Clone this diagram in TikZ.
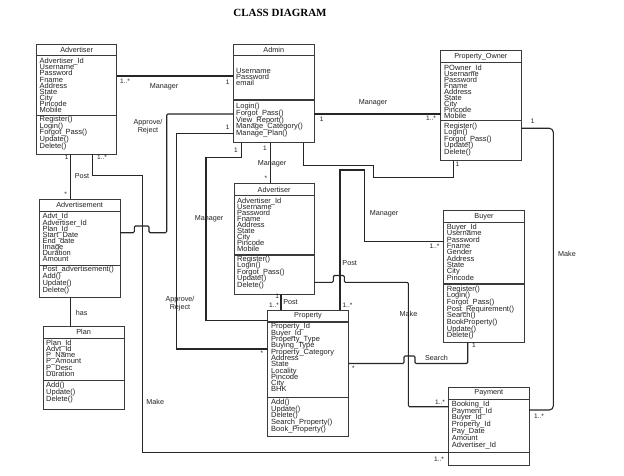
\documentclass[tikz,border=0pt]{standalone}
\usepackage{fontspec}
\setmainfont{Liberation Sans}
\newfontfamily\titlefont{Liberation Serif}
\usetikzlibrary{calc}
\lineskiplimit=-50pt
\lineskip=0pt
\definecolor{boxc}{HTML}{3A3A3A}
\definecolor{txtc}{HTML}{222222}
\definecolor{linec}{HTML}{262626}
\newcommand\cf[1]{\fontsize{7.5}{#1}\selectfont}
\tikzset{
  box/.style={draw=boxc, line width=0.8pt, inner sep=0pt, outer sep=0pt, anchor=north west},
  divline/.style={draw=boxc, line width=1.3pt},
  ttl/.style={font=\fontsize{7.3}{8}\selectfont, text=txtc, inner sep=0pt},
  txt/.style={anchor=north west, align=left, inner sep=0pt, text=txtc},
  conn/.style={draw=linec, line width=1.1pt},
  lbl/.style={font=\fontsize{7.2}{8}\selectfont, text=txtc, inner sep=0pt, align=center},
  card/.style={font=\fontsize{6.5}{7}\selectfont, text=txtc, inner sep=0pt},
}
% name, x1, y1, x2, y2, y header, y divider, title
\newcommand\umlclass[8]{%
  \node[box, minimum width={#4pt-#2pt}, minimum height={#5pt-#3pt}] (#1) at (#2,#3) {};
  \draw[divline] (#1.west |- 0,#6) -- (#1.east |- 0,#6);
  \draw[divline] (#1.west |- 0,#7) -- (#1.east |- 0,#7);
  \node[ttl] (#1-t) at ($(#1.north west)!.5!(#1.east |- 0,#6)$) {#8};
}
% name, x, y of first line centre, line skip, lines
\newcommand\members[5]{%
  \node[txt, font={\cf{#4}}] (#1) at (#2,#3-3.0) {\rule{0pt}{5.7pt}#5};
}
\begin{document}
\begin{tikzpicture}[x=1pt, y=-1pt]
\fill[white] (0,0) rectangle (624,476);
\useasboundingbox (0,0) rectangle (624,476);

\node[font=\titlefont\bfseries\fontsize{11}{12}\selectfont, inner sep=0pt] (title) at (280,12.5) {CLASS DIAGRAM};

% ---------- classes ----------
\umlclass{adv1}{36.7}{44}{116.7}{154.5}{55.7}{115.3}{Advertiser}
\members{adv1-a}{39.5}{60.7}{6.15}{Advertiser\_Id\\Username\\Password\\Fname\\Address\\State\\City\\Pincode\\Mobile}
\members{adv1-m}{39.5}{118.7}{6.65}{Register()\\Login()\\Forgot\_Pass()\\Update()\\Delete()}

\umlclass{adm}{233.3}{44}{314.3}{142.7}{55.7}{100}{Admin}
\members{adm-a}{236}{70.7}{5.9}{Username\\Password\\email}
\members{adm-m}{236}{106}{6.65}{Login()\\Forgot\_Pass()\\View\_Report()\\Manage\_Category()\\Manage\_Plan()}

\umlclass{po}{440.7}{50.7}{521}{160.7}{62.3}{120.7}{Property\_Owner}
\members{po-a}{444}{67.3}{6.1}{POwner\_Id\\Username\\Password\\Fname\\Address\\State\\City\\Pincode\\Mobile}
\members{po-m}{444}{125.3}{6.6}{Register()\\Login()\\Forgot\_Pass()\\Update()\\Delete()}

\umlclass{advt}{39.3}{199}{120}{297.7}{211.7}{265.7}{Advertisement}
\members{advt-a}{42.3}{216}{6.1}{Advt\_Id\\Advertiser\_Id\\Plan\_Id\\Start\_Date\\End\_date\\Image\\Duration\\Amount}
\members{advt-m}{42.3}{269}{7}{Post\_advertisement()\\Add()\\Update()\\Delete()}

\umlclass{adv2}{234}{183.3}{314.3}{294.3}{195.7}{255}{Advertiser}
\members{adv2-a}{237}{201}{6}{Advertiser\_Id\\Username\\Password\\Fname\\Address\\State\\City\\Pincode\\Mobile}
\members{adv2-m}{237}{258.3}{6.5}{Register()\\Login()\\Forgot\_Pass()\\Update()\\Delete()}

\umlclass{buy}{443.7}{210.3}{524.3}{342.3}{222.3}{284}{Buyer}
\members{buy-a}{446.7}{226.7}{6.33}{Buyer\_Id\\Username\\Password\\Fname\\Gender\\Address\\State\\City\\Pincode}
\members{buy-m}{446.7}{288.3}{6.67}{Register()\\Login()\\Forgot\_Pass()\\Post\_Requirement()\\Search()\\BookProperty()\\Update()\\Delete()}

\umlclass{plan}{43.3}{326}{124}{409}{338.3}{380.7}{Plan}
\members{plan-a}{46}{342.7}{6.1}{Plan\_Id\\Advt\_Id\\P\_Name\\P\_Amount\\P\_Desc\\Duration}
\members{plan-m}{46}{385}{7}{Add()\\Update()\\Delete()}

\umlclass{prop}{267.7}{310}{348.3}{436.7}{322}{397.7}{Property}
\members{prop-a}{271}{326}{6.3}{Property\_Id\\Buyer\_Id\\Property\_Type\\Buying\_Type\\Property\_Category\\Address\\State\\Locality\\Pincode\\City\\BHK}
\members{prop-m}{271}{401.7}{6.6}{Add()\\Update()\\Delete()\\Search\_Property()\\Book\_Property()}

\umlclass{pay}{448.7}{387}{529}{465.7}{399.3}{452.3}{Payment}
\members{pay-a}{451.7}{403.3}{6.8}{Booking\_Id\\Payment\_Id\\Buyer\_Id\\Property\_Id\\Pay\_Date\\Amount\\Advertiser\_Id}

% ---------- connectors ----------
% Advertiser - Admin (Manager)
\draw[conn] (adv1.east |- 0,76) -- (adm.west |- 0,76);
\node[card] (c1a) at (125,81.5) {1..*};
\node[lbl] (c1l) at (164,87) {Manager};
\node[card] (c1b) at (227.7,82.3) {1};

% Admin - Advertisement (Approve/Reject)
\draw[conn, rounded corners=1.2pt] (adm.west |- 0,114) -- (166.7,114) -- (166.7,232.7) -- (149,232.7) -- (149,226) -- (134.3,226) -- (134.3,232.7) -- (advt.east |- 0,232.7);
\node[lbl] (c2l) at (148,127) {Approve/\\Reject};

% Admin - Property (Approve/Reject)
\draw[conn] (adm.west |- 0,133.3) -- (176.3,133.3) -- (176.3,349) -- (prop.west |- 0,349);
\node[card] (c3a) at (227.7,127.7) {1};
\node[lbl] (c3l) at (180,304) {Approve/\\Reject};
\node[card] (c3b) at (262,353) {*};

% Admin - Property (Manager)
\draw[conn] (adm.south -| 241.7,0) -- (241.7,157.3) -- (206,157.3) -- (206,320.7) -- (prop.west |- 0,320.7);
\node[card] (c4a) at (236,150) {1};
\node[lbl] (c4l) at (209,218.5) {Manager};

% Admin - Advertiser (Manager)
\draw[conn] (adm.south -| 270.7,0) -- (adv2.north -| 270.7,0);
\node[card] (c5a) at (265,148.3) {1};
\node[lbl] (c5l) at (272,164) {Manager};
\node[card] (c5b) at (266,178) {*};

% Admin - Property_Owner (lower route)
\draw[conn] (adm.south -| 303.3,0) -- (303.3,165.7) -- (373.3,165.7) -- (373.3,177.7) -- (453.3,177.7) -- (po.south -| 453.3,0);
\node[card] (c6a) at (457.5,164.5) {1};

% Admin - Property_Owner (Manager)
\draw[conn] (adm.east |- 0,114) -- (po.west |- 0,114);
\node[card] (c7a) at (321.7,119.3) {1};
\node[lbl] (c7l) at (373,102.7) {Manager};
\node[card] (c7b) at (431,118.3) {1..*};

% Property - Buyer (Manager / Post)
\draw[conn] (prop.north -| 340,0) -- (340,170) -- (364.3,170) -- (364.3,241.5) -- (buy.west |- 0,241.5);
\node[card] (c8a) at (434.5,246.5) {1..*};
\node[lbl] (c8l) at (384,213.3) {Manager};
\node[lbl] (c8p) at (349.7,263.3) {Post};
\node[card] (c8b) at (347.5,305.7) {1..*};

% Advertiser - Payment (Make)
\draw[conn, rounded corners=1.2pt] (adv2.east |- 0,282.3) -- (333.3,282.3) -- (333.3,275.5) -- (344.3,275.5) -- (344.3,282.3) -- (408.3,282.3) -- (408.3,406.7) -- (pay.west |- 0,406.7);
\node[lbl] (c9l) at (408.5,313.5) {Make};
\node[card] (c9a) at (440,402) {1..*};

% Property - Buyer (Search)
\draw[conn, rounded corners=1.2pt] (prop.east |- 0,363.5) -- (404,363.5) -- (404,356) -- (415,356) -- (415,363.5) -- (467.7,363.5) -- (buy.south -| 467.7,0);
\node[card] (c10a) at (353.3,368.5) {*};
\node[lbl] (c10l) at (436.5,358.3) {Search};
\node[card] (c10b) at (474,345.7) {1};

% Property_Owner - Payment (Make)
\draw[conn, rounded corners=4pt] (po.east |- 0,128.3) -- (553.3,128.3) -- (553.3,410) -- (pay.east |- 0,410);
\node[card] (c11a) at (532.7,121) {1};
\node[lbl] (c11l) at (567,254.3) {Make};
\node[card] (c11b) at (539,416.7) {1..*};

% Advertiser - Advertisement (Post)
\draw[conn] (adv1.south -| 70.7,0) -- (advt.north -| 70.7,0);
\node[card] (c12a) at (66.7,157.7) {1};
\node[lbl] (c12l) at (82,176) {Post};
\node[card] (c12b) at (65.7,194) {*};

% Advertisement - Plan (has)
\draw[conn] (advt.south -| 70.7,0) -- (plan.north -| 70.7,0);
\node[lbl] (c13l) at (81.7,312.7) {has};

% Advertiser - Payment (Make)
\draw[conn] (adv1.south -| 92.7,0) -- (92.7,175.7) -- (142.3,175.7) -- (142.3,452.3) -- (pay.west |- 0,452.3);
\node[card] (c14a) at (102,157.7) {1..*};
\node[lbl] (c14l) at (155.3,401.7) {Make};
\node[card] (c14b) at (439,459) {1..*};

% Advertiser - Property (Post)
\draw[conn] (adv2.south -| 281,0) -- (prop.north -| 281,0);
\node[card] (c15a) at (277.3,296.5) {1};
\node[card] (c15b) at (274,305) {1..*};
\node[lbl] (c15l) at (290.5,302.3) {Post};
\end{tikzpicture}
\end{document}
